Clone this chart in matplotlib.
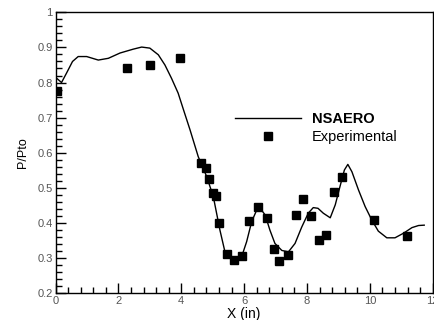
import matplotlib
matplotlib.use("Agg")
import matplotlib.pyplot as plt
from matplotlib.ticker import MultipleLocator, FuncFormatter

plt.rcParams['font.family'] = ['Liberation Sans', 'DejaVu Sans']

# NSAERO computed curve
x_calc = [0.0, 0.19, 0.35, 0.54, 0.72, 0.99, 1.36, 1.68, 2.05, 2.47, 2.74, 3.0,
          3.27, 3.48, 3.69, 3.9, 4.08, 4.28, 4.54, 4.81, 5.02, 5.23, 5.39, 5.55,
          5.71, 5.92, 6.08, 6.24, 6.4, 6.51, 6.67, 6.82, 6.98, 7.2, 7.41, 7.62,
          7.83, 8.04, 8.2, 8.35, 8.52, 8.74, 8.9, 9.05, 9.19, 9.30, 9.43, 9.64,
          9.85, 10.06, 10.27, 10.54, 10.8, 11.07, 11.34, 11.55, 11.73]
y_calc = [0.815, 0.80, 0.827, 0.86, 0.874, 0.874, 0.864, 0.869, 0.884, 0.895,
          0.901, 0.898, 0.879, 0.85, 0.812, 0.77, 0.72, 0.665, 0.589, 0.532,
          0.475, 0.38, 0.318, 0.302, 0.299, 0.304, 0.347, 0.404, 0.437, 0.442,
          0.423, 0.38, 0.342, 0.322, 0.318, 0.342, 0.388, 0.428, 0.444, 0.442,
          0.428, 0.415, 0.452, 0.504, 0.551, 0.567, 0.546, 0.494, 0.447, 0.409,
          0.377, 0.358, 0.358, 0.371, 0.387, 0.393, 0.394]

# experimental data
x_exp = [0.05, 2.26, 2.99, 3.97, 4.63, 4.79, 4.89, 5.02, 5.1, 5.19, 5.45, 5.68,
         5.92, 6.17, 6.44, 6.72, 6.95, 7.11, 7.40, 7.64, 7.88, 8.13, 8.38, 8.62,
         8.85, 9.10, 10.13, 11.19]
y_exp = [0.776, 0.842, 0.851, 0.871, 0.572, 0.557, 0.525, 0.485, 0.478, 0.401,
         0.311, 0.296, 0.307, 0.406, 0.447, 0.413, 0.325, 0.292, 0.308, 0.423,
         0.468, 0.421, 0.351, 0.365, 0.489, 0.532, 0.409, 0.363]

fig = plt.figure(figsize=(4.34, 3.2), dpi=100)
ax = fig.add_axes([0.128, 0.0834, 0.869, 0.8782])

ax.plot(x_calc, y_calc, color='black', lw=1.0, label='NSAERO')
ax.plot(x_exp, y_exp, 's', color='black', ms=6, ls='none', label='Experimental')

ax.set_xlim(0, 12)
ax.set_ylim(0.2, 1.0)
ax.xaxis.set_major_locator(MultipleLocator(2))
ax.xaxis.set_minor_locator(MultipleLocator(0.4))
ax.yaxis.set_major_locator(MultipleLocator(0.1))
ax.yaxis.set_minor_locator(MultipleLocator(0.02))
ax.yaxis.set_major_formatter(FuncFormatter(lambda v, p: '%g' % round(v, 2)))
ax.tick_params(which='both', direction='in', top=False, right=False,
               labelsize=8, labelcolor='#555555', width=1)
ax.tick_params(which='major', length=7, pad=2)
ax.tick_params(which='minor', length=4)
for s in ax.spines.values():
    s.set_linewidth(1)

ax.set_xlabel('X (in)', fontsize=10, labelpad=1)
ax.set_ylabel('P/Pto', fontsize=9, labelpad=6)

leg = ax.legend(loc='upper left', bbox_to_anchor=(0.4757, 0.645), frameon=False,
                fontsize=10.5, handlelength=4.5, handletextpad=0.75, borderpad=0,
                borderaxespad=0, labelspacing=0.25, numpoints=1)
leg.get_texts()[0].set_fontweight('bold')

fig.savefig('out.png', dpi=100)
